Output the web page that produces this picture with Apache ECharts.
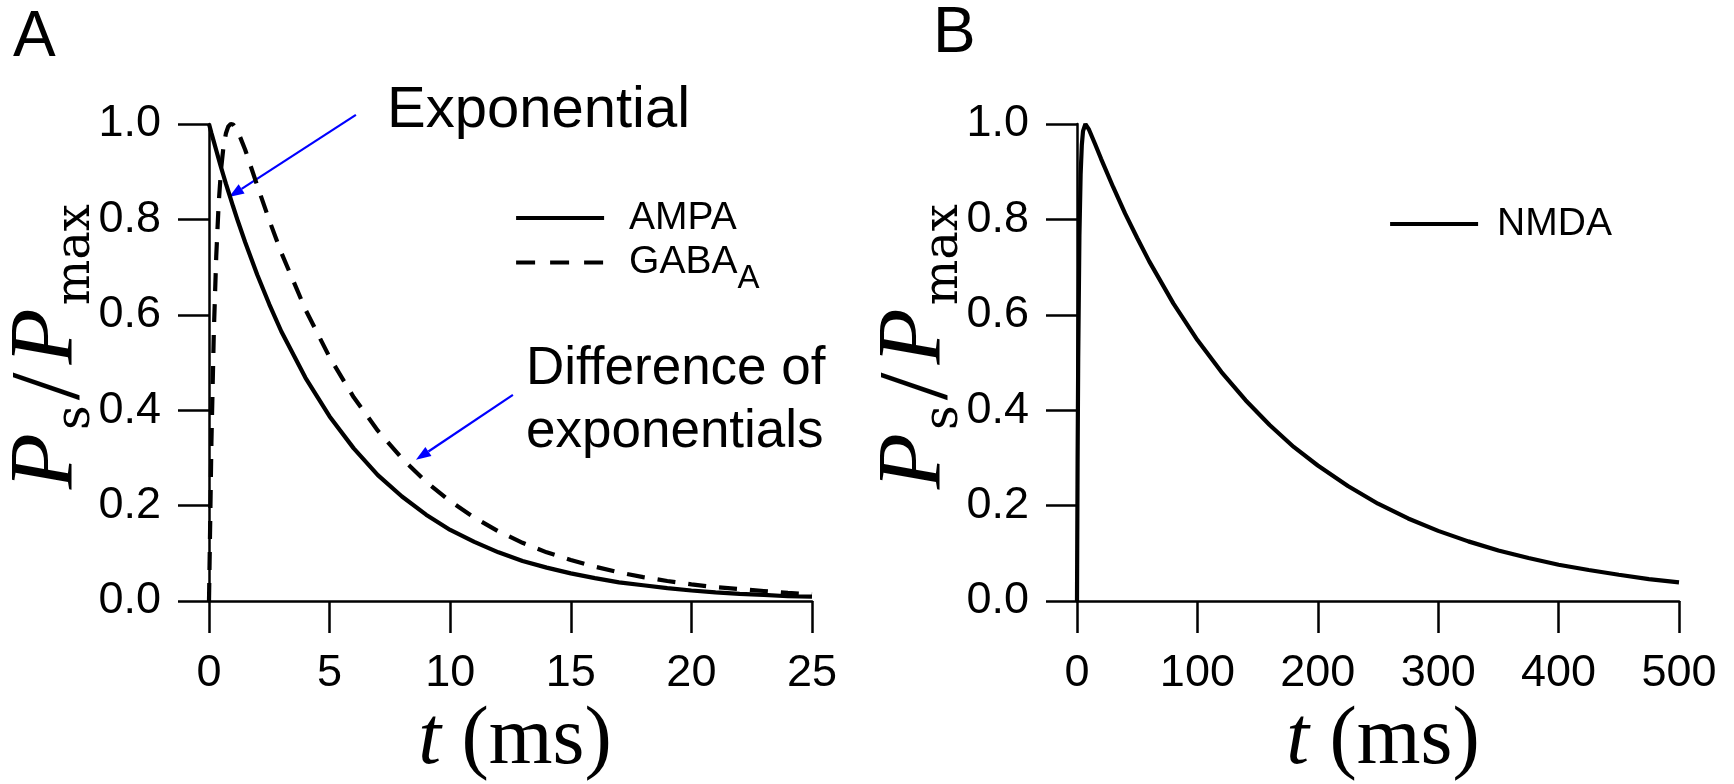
<!DOCTYPE html>
<html><head><meta charset="utf-8">
<script src="https://cdn.jsdelivr.net/npm/echarts@6/dist/echarts.min.js"></script>
<style>html,body{margin:0;padding:0;background:#fff}#c{width:1734px;height:784px}</style>
</head><body><div id="c"></div>
<script>
// ---- data ----
const tA = [0, 0.1, 0.2, 0.3, 0.4, 0.5, 0.6, 0.7, 0.8, 0.9, 1.0, 1.2, 1.5, 2, 2.5, 3, 4, 5, 6, 7, 8, 9, 10, 11, 12, 13, 14, 15, 16, 17, 18, 19, 20, 21, 22, 23, 24, 25];
const ampa = [1.0, 0.981, 0.963, 0.945, 0.927, 0.909, 0.892, 0.875, 0.859, 0.843, 0.827, 0.796, 0.752, 0.684, 0.622, 0.565, 0.468, 0.387, 0.320, 0.264, 0.219, 0.181, 0.149, 0.124, 0.102, 0.084, 0.070, 0.058, 0.048, 0.039, 0.033, 0.027, 0.022, 0.018, 0.015, 0.013, 0.010, 0.009];
const gabaA = [0, 0.331, 0.563, 0.723, 0.832, 0.905, 0.952, 0.980, 0.995, 1.000, 0.999, 0.984, 0.946, 0.871, 0.798, 0.730, 0.611, 0.511, 0.427, 0.357, 0.299, 0.250, 0.209, 0.175, 0.146, 0.122, 0.102, 0.086, 0.072, 0.060, 0.050, 0.042, 0.035, 0.029, 0.025, 0.021, 0.017, 0.014];
const tB = [0, 0.5, 1, 2, 3, 4, 5, 7, 10, 15, 20, 30, 40, 50, 60, 80, 100, 120, 140, 160, 180, 200, 225, 250, 275, 300, 325, 350, 375, 400, 425, 450, 475, 500];
const nmda = [0, 0.296, 0.507, 0.765, 0.893, 0.956, 0.985, 1.0, 0.988, 0.958, 0.927, 0.868, 0.812, 0.761, 0.712, 0.624, 0.547, 0.480, 0.421, 0.369, 0.323, 0.284, 0.241, 0.204, 0.173, 0.147, 0.125, 0.106, 0.090, 0.076, 0.065, 0.055, 0.046, 0.039];
const xTicksA = [0, 5, 10, 15, 20, 25];
const xTicksB = [0, 100, 200, 300, 400, 500];
const yTicks = [0, 0.2, 0.4, 0.6, 0.8, 1.0];
// annotation arrows (tail, tip) in data units of panel A
const arrowExp = [[6.09, 1.019], [0.83, 0.847]];
const arrowDiff = [[12.6, 0.432], [8.58, 0.296]];

const SANS = "'Liberation Sans', Arial, Helvetica, sans-serif";
const SERIF = "'Liberation Serif', 'Times New Roman', serif";
const SERIF_W = "'DejaVu Serif', 'Liberation Serif', serif";
const LW = 4.2;

function xAxisOf(idx, ticks) {
  return {
    type: 'value', gridIndex: idx, min: ticks[0], max: ticks[ticks.length - 1], interval: ticks[1] - ticks[0],
    axisLine: {show: true, onZero: false, lineStyle: {color: '#000', width: 2.5}},
    axisTick: {show: true, inside: false, length: 32, lineStyle: {color: '#000', width: 2.5}},
    splitLine: {show: false},
    axisLabel: {color: '#000', fontSize: 45, fontFamily: SANS, margin: 50}
  };
}
function yAxisOf(idx) {
  return {
    type: 'value', gridIndex: idx, min: yTicks[0], max: yTicks[yTicks.length - 1], interval: yTicks[1] - yTicks[0],
    axisLine: {show: true, onZero: false, lineStyle: {color: '#000', width: 2.5}},
    axisTick: {show: true, inside: false, length: 31, lineStyle: {color: '#000', width: 2.5}},
    splitLine: {show: false},
    axisLabel: {color: '#000', fontSize: 45, fontFamily: SANS, margin: 48, formatter: v => v.toFixed(1)}
  };
}
function yTitle(x) {
  return {
    type: 'text', x: x, y: 348, rotation: Math.PI / 2, silent: true,
    style: {
      text: '{P|P}{s|s}{sl|/}{P|P}{s|max}{h| }', align: 'center', verticalAlign: 'middle', fill: '#000',
      fontFamily: SERIF, fontSize: 48,
      rich: {
        P: {fontFamily: SERIF, fontStyle: 'italic', fontSize: 92, lineHeight: 92, verticalAlign: 'top', padding: [0, 3, 0, 3], fill: '#000'},
        s: {fontFamily: SERIF_W, fontSize: 48, lineHeight: 48, verticalAlign: 'bottom', fill: '#000'},
        sl: {fontFamily: SERIF, fontSize: 100, lineHeight: 92, verticalAlign: 'top', padding: [0, 5, 0, 5], fill: '#000'},
        h: {fontSize: 1, lineHeight: 99, verticalAlign: 'top'}
      }
    }
  };
}
function xTitle(x) {
  return {
    type: 'text', x: x, y: 741, silent: true,
    style: {
      text: '{i|t} {r|(ms)}', align: 'center', verticalAlign: 'middle', fill: '#000',
      fontFamily: SERIF, fontSize: 82,
      rich: {
        i: {fontFamily: SERIF, fontStyle: 'italic', fontSize: 82, lineHeight: 90, fill: '#000'},
        r: {fontFamily: SERIF, fontSize: 82, lineHeight: 90, fill: '#000'}
      }
    }
  };
}
function plainText(x, y, text, size, lineHeight) {
  const st = {text: text, fontFamily: SANS, fontSize: size, fill: '#000', align: 'left', verticalAlign: 'middle'};
  if (lineHeight) st.lineHeight = lineHeight;
  return {type: 'text', x: x, y: y, silent: true, style: st};
}
function legendOf(name, left, top, pad, extra) {
  return Object.assign({
    data: [name], left: left, top: top, orient: 'vertical', padding: 0,
    itemWidth: 88, itemHeight: 6, selectedMode: false,
    itemStyle: {opacity: 0},
    lineStyle: {width: LW},
    textStyle: {fontFamily: SANS, fontSize: 39, lineHeight: 39, color: '#000', padding: [0, 0, 0, pad]}
  }, extra || {});
}

const chart = echarts.init(document.getElementById('c'), null, {renderer: 'canvas'});
chart.setOption({
  animation: false,
  backgroundColor: '#fff',
  grid: [
    {left: 209, top: 124, width: 603, height: 477},
    {left: 1077, top: 124, width: 602, height: 477}
  ],
  xAxis: [xAxisOf(0, xTicksA), xAxisOf(1, xTicksB)],
  yAxis: [yAxisOf(0), yAxisOf(1)],
  legend: [
    legendOf('AMPA', 514, 198.5, 20),
    legendOf('GABA_A', 514, 243, 20, {
      lineStyle: {width: LW, type: [19, 15]},
      formatter: () => '{m|GABA}{sub|A}',
      textStyle: {
        fontFamily: SANS, fontSize: 39, color: '#000', padding: [0, 0, 0, 20],
        rich: {
          m: {fontFamily: SANS, fontSize: 39, lineHeight: 66, verticalAlign: 'middle', color: '#000'},
          sub: {fontFamily: SANS, fontSize: 33, lineHeight: 32, verticalAlign: 'bottom', color: '#000'}
        }
      }
    }),
    legendOf('NMDA', 1388, 204.5, 14)
  ],
  series: [
    {
      type: 'line', name: 'AMPA', xAxisIndex: 0, yAxisIndex: 0, symbol: 'none', clip: false,
      data: tA.map((t, i) => [t, ampa[i]]),
      lineStyle: {color: '#000', width: LW, type: 'solid'}, itemStyle: {color: '#000'},
      emphasis: {disabled: true}
    },
    {
      type: 'line', name: 'GABA_A', xAxisIndex: 0, yAxisIndex: 0, symbol: 'none', clip: false,
      data: tA.map((t, i) => [t, gabaA[i]]),
      lineStyle: {color: '#000', width: LW, type: [18, 13]}, itemStyle: {color: '#000'},
      emphasis: {disabled: true}
    },
    {
      type: 'line', name: 'NMDA', xAxisIndex: 1, yAxisIndex: 1, symbol: 'none', clip: false,
      data: tB.map((t, i) => [t, nmda[i]]),
      lineStyle: {color: '#000', width: LW, type: 'solid'}, itemStyle: {color: '#000'},
      emphasis: {disabled: true}
    }
  ]
});

// arrows placed through the chart's own scales
function arrow(pair) {
  const p0 = chart.convertToPixel({gridIndex: 0}, pair[0]);
  const p1 = chart.convertToPixel({gridIndex: 0}, pair[1]);
  const dx = p1[0] - p0[0], dy = p1[1] - p0[1], L = Math.hypot(dx, dy);
  const ux = dx / L, uy = dy / L, hl = 15, hw = 5.5;
  const bx = p1[0] - ux * hl, by = p1[1] - uy * hl;
  return [
    {type: 'line', silent: true, shape: {x1: p0[0], y1: p0[1], x2: bx, y2: by}, style: {stroke: '#0000ff', lineWidth: 2.2}},
    {type: 'polygon', silent: true, shape: {points: [[p1[0], p1[1]], [bx - uy * hw, by + ux * hw], [bx + uy * hw, by - ux * hw]]}, style: {fill: '#0000ff'}}
  ];
}

chart.setOption({
  graphic: [
    plainText(13, 38, 'A', 64),
    plainText(933, 34, 'B', 64),
    plainText(387, 111, 'Exponential', 58),
    plainText(526, 401, 'Difference of\nexponentials', 53, 63),
    yTitle(51), yTitle(919),
    xTitle(515), xTitle(1383)
  ].concat(arrow(arrowExp), arrow(arrowDiff))
});
</script>
</body></html>
